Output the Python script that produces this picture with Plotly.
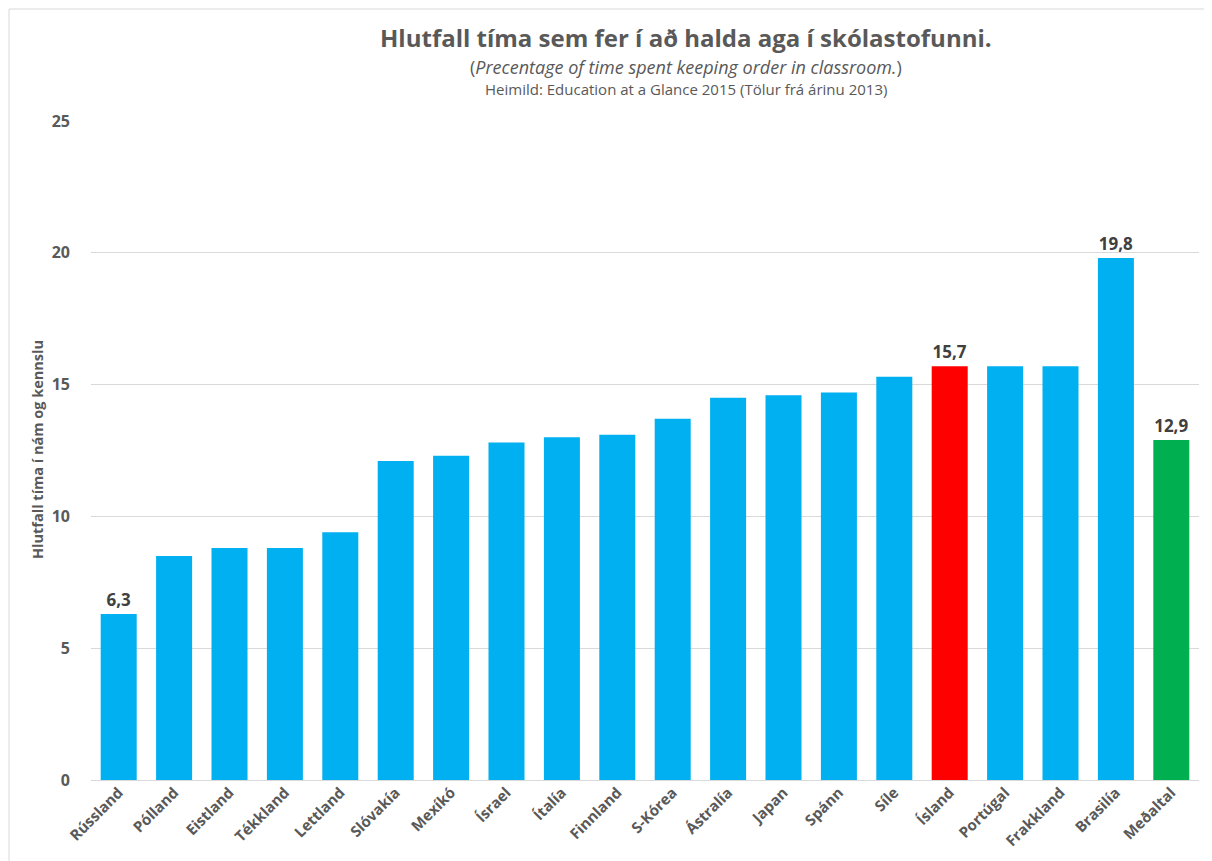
import plotly.graph_objects as go

categories = ["Rússland", "Pólland", "Eistland", "Tékkland", "Lettland", "Slóvakía",
              "Mexíkó", "Ísrael", "Ítalía", "Finnland", "S-Kórea", "Ástralía", "Japan",
              "Spánn", "Síle", "Ísland", "Portúgal", "Frakkland", "Brasilía", "Meðaltal"]
values = [6.3, 8.5, 8.8, 8.8, 9.4, 12.1, 12.3, 12.8, 13.0, 13.1, 13.7, 14.5, 14.6,
          14.7, 15.3, 15.7, 15.7, 15.7, 19.8, 12.9]
labelled = ["Rússland", "Ísland", "Brasilía", "Meðaltal"]
y_ticks = [0, 5, 10, 15, 20, 25]

BLUE, RED, GREEN = "#00B0F0", "#FF0000", "#00B050"
colors = [RED if c == "Ísland" else GREEN if c == "Meðaltal" else BLUE for c in categories]
texts = [f"{v:.1f}".replace(".", ",") if c in labelled else "" for c, v in zip(categories, values)]

FONT = "Open Sans"
GRAY = "#595959"

fig = go.Figure(go.Bar(
    x=categories, y=values, marker=dict(color=colors, line=dict(width=0)),
    text=texts, textposition="outside", cliponaxis=False,
    textfont=dict(family=FONT, size=17, color="#404040", weight="bold"),
))

OFF = 8  # page body margin
W, H = 1212, 861
L, R, T, B = 91 - OFF, W - (1199 - OFF), 121 - OFF, H - (780 - OFF)
pw, ph = W - L - R, H - T - B

def px(x):
    return (x - OFF - L) / pw

def py(y):
    return (H - B - (y - OFF)) / ph

fig.update_layout(
    width=W, height=H, margin=dict(l=L, r=R, t=T, b=B),
    paper_bgcolor="white", plot_bgcolor="white", showlegend=False,
    bargap=0.35,
    xaxis=dict(tickangle=-45, tickfont=dict(family=FONT, size=15, color=GRAY, weight="bold"),
               showgrid=False, showline=False, ticks=""),
    yaxis=dict(range=[0, 25], tickvals=y_ticks, showgrid=True, gridcolor="#D9D9D9",
               gridwidth=1, zeroline=True, zerolinecolor="#D9D9D9", zerolinewidth=1,
               tickfont=dict(family=FONT, size=16, color=GRAY, weight="bold"),
               ticks="", ticklabelstandoff=20, showline=False),
    annotations=[
        dict(text="<b>Hlutfall tíma sem fer í að halda aga í skólastofunni.</b>",
             x=px(686), y=py(38), xref="paper", yref="paper", showarrow=False,
             xanchor="center", yanchor="middle",
             font=dict(family=FONT, size=24, color=GRAY)),
        dict(text="(<i>Precentage of time spent keeping order in classroom.</i>)",
             x=px(686), y=py(67), xref="paper", yref="paper", showarrow=False,
             xanchor="center", yanchor="middle",
             font=dict(family=FONT, size=18, color=GRAY)),
        dict(text="Heimild: Education at a Glance 2015 (Tölur frá árinu 2013)",
             x=px(686), y=py(89), xref="paper", yref="paper", showarrow=False,
             xanchor="center", yanchor="middle",
             font=dict(family=FONT, size=15, color=GRAY)),
        dict(text="<b>Hlutfall tíma í nám og kennslu</b>",
             x=px(37), y=py(450), xref="paper", yref="paper", showarrow=False,
             xanchor="center", yanchor="middle", textangle=-90,
             font=dict(family=FONT, size=14.5, color=GRAY)),
    ],
    shapes=[
        dict(type="line", xref="paper", yref="paper", x0=px(9), x1=px(9), y0=py(870), y1=py(9),
             line=dict(color="#D9D9D9", width=1)),
        dict(type="line", xref="paper", yref="paper", x0=px(9), x1=px(1230), y0=py(9), y1=py(9),
             line=dict(color="#D9D9D9", width=1)),
    ],
)

fig.write_html("out.html")
